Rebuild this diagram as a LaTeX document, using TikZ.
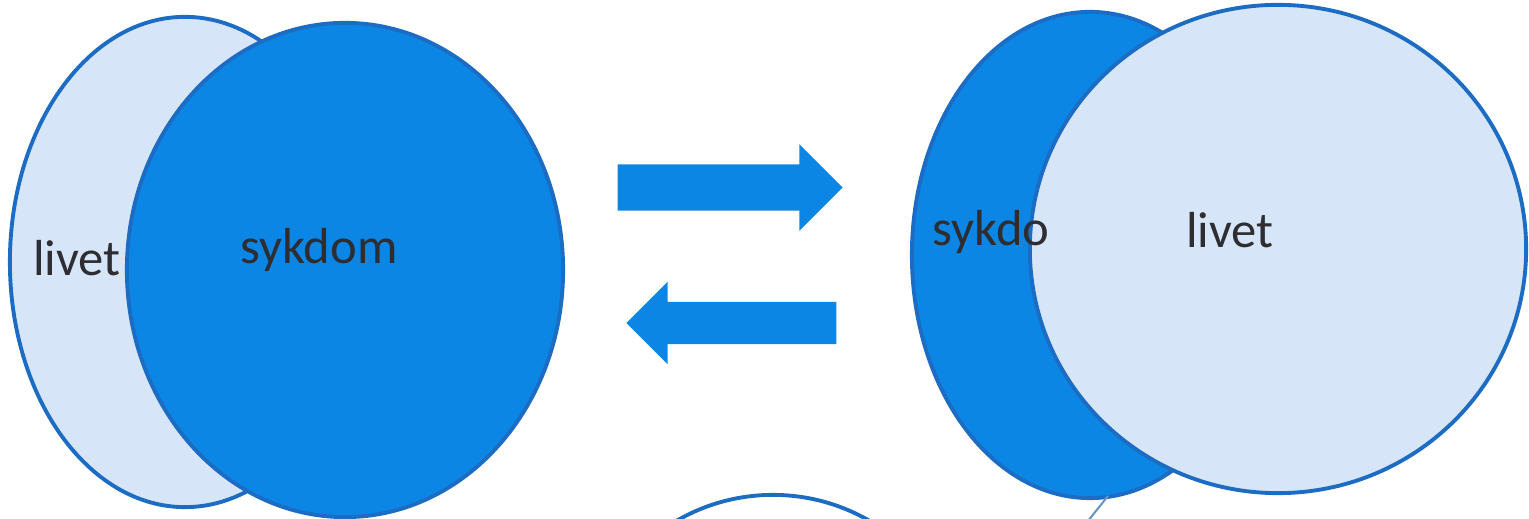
\documentclass[tikz,border=0pt]{standalone}
\usepackage{fontspec}
\setmainfont{Carlito}
\usetikzlibrary{shapes.geometric,shapes.arrows}
\definecolor{bluefill}{RGB}{12,134,228}
\definecolor{blueedge}{RGB}{28,108,196}
\definecolor{palefill}{RGB}{214,230,248}
\definecolor{textgrey}{RGB}{45,45,50}
\tikzset{
  pale/.style={ellipse, draw=blueedge, line width=1.1pt, fill=palefill, inner sep=0mm},
  dark/.style={ellipse, draw=blueedge, line width=1.1pt, fill=bluefill, inner sep=0mm},
  word/.style={draw=none, fill=none, inner sep=0mm, text=textgrey, font=\fontsize{14.4}{17}\selectfont},
  blockarrow/.style={single arrow, fill=bluefill, draw=none, inner xsep=0mm,
    single arrow head extend=0.2cm, single arrow tip angle=90}
}

\begin{document}
\begin{tikzpicture}[x=0.01cm, y=-0.01cm]
    \useasboundingbox (0,0) rectangle (1529,519);
    \clip (0,0) rectangle (1529,519);

    % left pair
    \node (lifeL) [pale, minimum width=3.5cm, minimum height=4.9cm] at (185,262) {};
    \node (illL) [dark, minimum width=4.36cm, minimum height=4.94cm] at (345,270) {};
    \node (lifeLt) [word] at (77,258) {livet};
    \node (illLt) [word] at (319,250) {sykdom};

    % arrows between
    \node (fwd) [blockarrow, inner ysep=0.225cm, minimum height=2.25cm] at (718.5,187.5) {};
    \node (back) [blockarrow, shape border rotate=180, inner ysep=0.205cm, minimum height=2.1cm] at (742,323) {};

    % right pair
    \node (illR) [dark, minimum width=3.56cm, minimum height=4.86cm] at (1090,255) {};
    \node (lifeR) [pale, minimum width=4.96cm, minimum height=4.88cm] at (1278,249) {};
    \node (illRt) [word, anchor=east] at (1050,232) {sykdo};
    \node (lifeRt) [word] at (1230,230) {livet};

    % bottom, cut off
    \node (next) [circle, draw=blueedge, line width=1.1pt, fill=white, minimum size=3.84cm] at (773,687) {};
    \coordinate (tickA) at (1108,496);
    \coordinate (tickB) at (1088,521);
    \draw [draw={rgb,255:red,110;green,150;blue,190}, line width=0.6pt] (tickA) -- (tickB);
\end{tikzpicture}
\end{document}
